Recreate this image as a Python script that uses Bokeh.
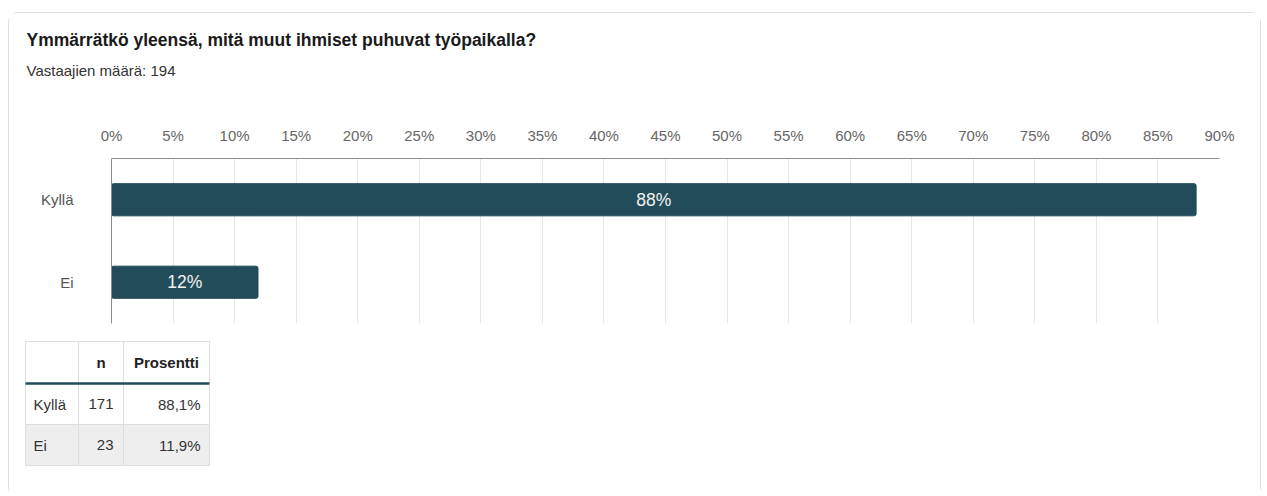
from bokeh.plotting import figure
from bokeh.models import Range1d, FactorRange, FixedTicker, ColumnDataSource, PrintfTickFormatter
from bokeh.layouts import column
from bokeh.core.properties import value
from bokeh.embed import file_html
from bokeh.resources import INLINE

# ---- data ----
title_text = "Ymmärrätkö yleensä, mitä muut ihmiset puhuvat työpaikalla?"
respondents = 194
categories = ["Kyllä", "Ei"]
counts = [171, 23]
percents = [88.1, 11.9]
x_ticks = [0, 5, 10, 15, 20, 25, 30, 35, 40, 45, 50, 55, 60, 65, 70, 75, 80, 85, 90]
table_headers = ["", "n", "Prosentti"]

FONT = "Liberation Sans"
BAR = "#234c5a"
W = 1251  # inner width of the card

# ---- header (title + subtitle) ----
h = figure(width=W, height=87, x_range=Range1d(9, 1260), y_range=Range1d(100, 13),
           output_backend="svg", toolbar_location=None, min_border=0,
           outline_line_color=None)
h.axis.visible = False
h.grid.visible = False
h.text(x=[26], y=[39], text=[title_text], text_font=value(FONT), text_font_size="17.5px",
       text_font_style="bold", text_color="#1a1a1a", text_baseline="middle")
h.text(x=[26], y=[70], text=[f"Vastaajien määrä: {respondents}"], text_font=value(FONT),
       text_font_size="15px", text_color="#333333", text_baseline="middle")

# ---- chart ----
src = ColumnDataSource(dict(
    cat=categories,
    pct=percents,
    mid=[p / 2 for p in percents],
    lab=[f"{round(p)}%" for p in percents],
))
p = figure(width=W, height=230, x_range=Range1d(0, 90),
           y_range=FactorRange(*categories[::-1], range_padding=0),
           x_axis_location="above", output_backend="svg", toolbar_location=None,
           min_border_left=102, min_border_right=41, min_border_top=58, min_border_bottom=7,
           outline_line_color=None)
p.hbar(y="cat", left=0, right="pct", height=0.39, source=src, fill_color=BAR,
       line_color=BAR, border_radius=2)
p.text(x="mid", y="cat", text="lab", source=src, text_align="center", text_baseline="middle",
       text_color="#f2f2f2", text_font=value(FONT), text_font_size="17.5px")

xa = p.xaxis[0]
xa.ticker = FixedTicker(ticks=x_ticks)
xa.formatter = PrintfTickFormatter(format="%d%%")
xa.major_tick_line_color = None
xa.minor_tick_line_color = None
xa.major_tick_out = 0
xa.major_label_standoff = 15
xa.axis_line_color = "#8c8c8c"
xa.major_label_text_font = FONT
xa.major_label_text_font_size = "15px"
xa.major_label_text_color = "#666666"

ya = p.yaxis[0]
ya.major_tick_line_color = None
ya.minor_tick_line_color = None
ya.major_tick_out = 0
ya.major_label_standoff = 38
ya.axis_line_color = "#8c8c8c"
ya.major_label_text_font = FONT
ya.major_label_text_font_size = "15px"
ya.major_label_text_color = "#555555"

p.xgrid.ticker = FixedTicker(ticks=x_ticks)
p.xgrid.grid_line_color = "#e6e6e6"
p.ygrid.grid_line_color = None

# ---- table ----
col_edges = [25, 78, 123, 209]
row_edges = [341, 383, 424, 465]
t = figure(width=W, height=166, x_range=Range1d(9, 1260), y_range=Range1d(496, 330),
           output_backend="svg", toolbar_location=None, min_border=0,
           outline_line_color=None)
t.axis.visible = False
t.grid.visible = False

fills = ["#ffffff"] + ["#ffffff" if i % 2 == 0 else "#eeeeee" for i in range(len(categories))]
cells_l, cells_r, cells_t, cells_b, cells_f = [], [], [], [], []
for r in range(len(row_edges) - 1):
    for c in range(len(col_edges) - 1):
        cells_l.append(col_edges[c]); cells_r.append(col_edges[c + 1])
        cells_t.append(row_edges[r]); cells_b.append(row_edges[r + 1])
        cells_f.append(fills[r])
t.quad(left=cells_l, right=cells_r, top=cells_t, bottom=cells_b, fill_color=cells_f,
       line_color="#dddddd", line_width=1)
t.segment(x0=[col_edges[0]], x1=[col_edges[-1]], y0=[row_edges[1]], y1=[row_edges[1]],
          line_color=BAR, line_width=2.5)

hdr_x = [(col_edges[c] + col_edges[c + 1]) / 2 for c in range(3)]
hdr_y = (row_edges[0] + row_edges[1]) / 2
t.text(x=hdr_x, y=[hdr_y] * 3, text=table_headers, text_align="center", text_baseline="middle",
       text_font=value(FONT), text_font_size="15px", text_font_style="bold", text_color="#222222")

row_y = [(row_edges[i + 1] + row_edges[i + 2]) / 2 for i in range(len(categories))]
t.text(x=[col_edges[0] + 8] * len(categories), y=row_y, text=categories, text_align="left",
       text_baseline="middle", text_font=value(FONT), text_font_size="15px", text_color="#333333")
t.text(x=[col_edges[2] - 10] * len(categories), y=row_y, text=[str(n) for n in counts],
       text_align="right", text_baseline="middle", text_font=value(FONT), text_font_size="15px",
       text_color="#333333")
t.text(x=[col_edges[3] - 9] * len(categories), y=row_y,
       text=[f"{v:.1f}".replace(".", ",") + "%" for v in percents],
       text_align="right", text_baseline="middle", text_font=value(FONT), text_font_size="15px",
       text_color="#333333")

for f in (h, p, t):
    if "frame_align" in f.properties():
        f.frame_align = False

layout = column(h, p, t, spacing=0, margin=(12, 0, 0, 8),
                styles={"border": "1px solid #dedede", "border-radius": "10px",
                        "background": "#ffffff"})

open("out.html", "w").write(file_html(layout, INLINE))
